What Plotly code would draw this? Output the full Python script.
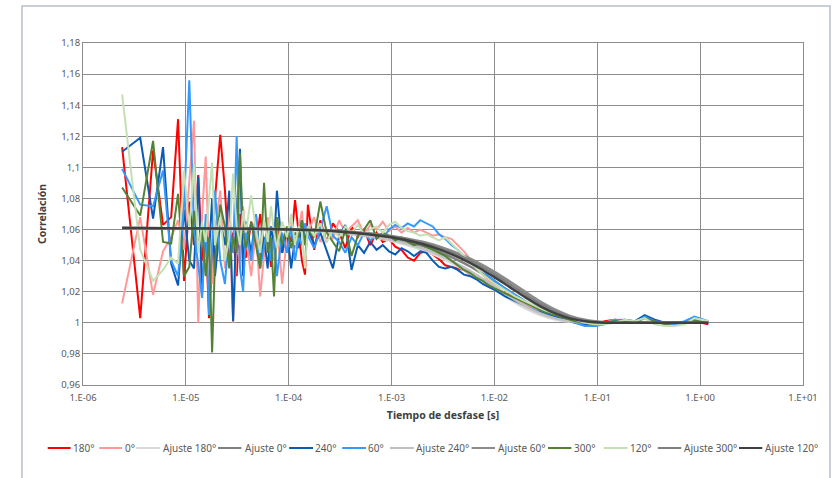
import plotly.graph_objects as go

# lag times (microseconds) of the measured correlation curves
lag_us = [2.4, 3.6, 4.8, 6.0, 7.2, 8.4, 9.6, 10.8, 12.0, 13.2, 14.4, 15.6, 16.8, 18.0, 19.2,
          21.6, 24.0, 26.4, 28.8, 31.2, 33.6, 36.0, 38.4,
          43.2, 48.0, 52.8, 57.6, 62.4, 67.2, 72.0, 76.8,
          86.4, 96, 105.6, 115.2, 124.8, 134.4, 144, 153.6,
          177, 203, 234, 269, 309, 355, 408, 470, 540, 621, 714, 821, 944, 1086, 1249, 1436,
          1652, 1900, 2185, 2512, 2889, 3322, 3821, 4394, 5053, 5811, 6682, 7685, 8837, 10163,
          12700, 15900, 19800, 24800, 31000, 38800, 48500, 60600, 75800, 94700, 118000, 148000,
          185000, 231000, 289000, 361000, 452000, 565000, 706000, 882000, 1200000]

g_180 = [1.113, 1.003, 1.111, 1.063, 1.068, 1.131, 1.027, 1.078, 1.050, 1.095, 1.040, 1.060, 1.003, 1.045, 1.080,
         1.121, 1.085, 1.040, 1.058, 1.030, 1.070, 1.045, 1.042,
         1.065, 1.050, 1.070, 1.048, 1.062, 1.036, 1.058, 1.066,
         1.045, 1.060, 1.052, 1.079, 1.058, 1.040, 1.031, 1.076,
         1.047, 1.066, 1.052, 1.064, 1.058, 1.048, 1.062, 1.055, 1.060, 1.050, 1.058, 1.052, 1.054, 1.049, 1.047, 1.042,
         1.040, 1.045, 1.046, 1.044, 1.041, 1.037, 1.036, 1.035, 1.034, 1.031, 1.029, 1.027, 1.025, 1.023,
         1.019, 1.017, 1.013, 1.010, 1.007, 1.005, 1.004, 1.002, 1.000, 0.999, 1.001, 1.002,
         1.001, 1.000, 1.004, 1.001, 1.000, 0.999, 1.000, 1.001, 0.999]

g_0 = [1.0125, 1.068, 1.018, 1.046, 1.055, 1.066, 1.047, 1.090, 1.130, 1.000, 1.070, 1.107, 1.040, 1.025, 1.060,
       1.085, 1.035, 1.070, 1.000, 1.050, 1.040, 1.075, 1.055,
       1.030, 1.060, 1.017, 1.045, 1.068, 1.052, 1.040, 1.062,
       1.025, 1.055, 1.068, 1.048, 1.060, 1.072, 1.050, 1.058,
       1.068, 1.052, 1.060, 1.054, 1.066, 1.058, 1.062, 1.066, 1.057, 1.063, 1.060, 1.065, 1.059, 1.062, 1.058, 1.061,
       1.058, 1.060, 1.058, 1.056, 1.057, 1.055, 1.054, 1.050, 1.046, 1.041, 1.036, 1.031, 1.027, 1.024,
       1.018, 1.015, 1.012, 1.009, 1.006, 1.005, 1.003, 1.001, 1.000, 0.999, 1.000, 1.002,
       1.002, 1.001, 1.004, 1.002, 1.000, 0.999, 1.000, 1.002, 1.000]

g_240 = [1.110, 1.119, 1.067, 1.113, 1.038, 1.024, 1.073, 1.040, 1.035, 1.094, 1.020, 1.060, 1.045, 1.080, 1.030,
         1.065, 1.050, 1.085, 1.001, 1.070, 1.112, 1.030, 1.065,
         1.045, 1.070, 1.040, 1.055, 1.035, 1.062, 1.050, 1.085,
         1.045, 1.060, 1.035, 1.055, 1.048, 1.066, 1.052, 1.060,
         1.050, 1.058, 1.046, 1.035, 1.056, 1.063, 1.034, 1.050, 1.045, 1.052, 1.047, 1.050, 1.046, 1.044, 1.048, 1.046,
         1.043, 1.046, 1.045, 1.040, 1.036, 1.035, 1.036, 1.034, 1.031, 1.030, 1.028, 1.025, 1.023, 1.021,
         1.017, 1.014, 1.011, 1.008, 1.006, 1.004, 1.002, 1.000, 0.999, 0.998, 1.000, 1.001,
         1.002, 1.001, 1.005, 1.002, 1.000, 1.000, 1.000, 1.001, 1.000]

g_60 = [1.099, 1.076, 1.075, 1.098, 1.040, 1.030, 1.075, 1.156, 1.060, 1.035, 1.016, 1.070, 1.005, 1.050, 1.085,
        1.040, 1.025, 1.060, 1.045, 1.120, 1.035, 1.020, 1.060,
        1.040, 1.070, 1.035, 1.050, 1.062, 1.040, 1.055, 1.030,
        1.058, 1.045, 1.062, 1.040, 1.055, 1.050, 1.064, 1.056,
        1.048, 1.060, 1.075, 1.056, 1.052, 1.045, 1.055, 1.050, 1.058, 1.053, 1.056, 1.054, 1.060, 1.063, 1.061, 1.064,
        1.062, 1.066, 1.064, 1.062, 1.057, 1.054, 1.050, 1.047, 1.043, 1.040, 1.037, 1.034, 1.030, 1.027,
        1.022, 1.018, 1.014, 1.010, 1.007, 1.005, 1.003, 1.000, 0.998, 0.998, 0.999, 1.002,
        1.001, 1.000, 1.004, 1.001, 1.000, 0.999, 1.001, 1.004, 1.001]

g_300 = [1.087, 1.069, 1.117, 1.052, 1.051, 1.083, 1.030, 1.036, 1.072, 1.050, 1.060, 1.030, 1.055, 0.981, 1.040,
         1.076, 1.062, 1.035, 1.055, 1.045, 1.109, 1.058, 1.048,
         1.065, 1.050, 1.035, 1.090, 1.045, 1.055, 1.017, 1.068,
         1.050, 1.062, 1.048, 1.058, 1.055, 1.066, 1.050, 1.060,
         1.055, 1.078, 1.058, 1.052, 1.046, 1.060, 1.043, 1.056, 1.060, 1.066, 1.054, 1.058, 1.056, 1.053, 1.055, 1.052,
         1.050, 1.051, 1.049, 1.047, 1.045, 1.043, 1.040, 1.037, 1.034, 1.032, 1.029, 1.027, 1.024, 1.022,
         1.019, 1.016, 1.013, 1.010, 1.007, 1.005, 1.003, 1.001, 1.000, 0.999, 1.000, 1.001,
         1.001, 1.000, 1.003, 1.001, 0.999, 1.000, 1.000, 1.002, 1.000]

g_120 = [1.147, 1.047, 1.027, 1.034, 1.042, 1.038, 1.098, 1.060, 1.102, 1.045, 1.065, 1.052, 1.080, 1.103, 1.050,
         1.068, 1.040, 1.055, 1.096, 1.062, 1.050, 1.072, 1.058,
         1.082, 1.060, 1.045, 1.066, 1.052, 1.075, 1.058, 1.048,
         1.065, 1.055, 1.070, 1.050, 1.062, 1.058, 1.035, 1.062,
         1.056, 1.064, 1.052, 1.060, 1.055, 1.062, 1.058, 1.063, 1.057, 1.060, 1.062, 1.058, 1.063, 1.065, 1.061, 1.059,
         1.058, 1.056, 1.057, 1.055, 1.053, 1.055, 1.051, 1.047, 1.043, 1.039, 1.035, 1.031, 1.028, 1.025,
         1.021, 1.017, 1.014, 1.011, 1.008, 1.006, 1.004, 1.002, 1.000, 0.999, 0.999, 1.000,
         1.002, 1.001, 1.003, 0.999, 0.998, 0.998, 0.999, 1.003, 1.001]

# fitted curves (Ajuste), sampled lag times in seconds
fit_t = [2.4e-6, 1e-4, 3e-4, 1e-3, 2e-3, 3e-3, 5e-3, 7e-3, 1e-2, 1.4e-2, 2e-2, 2.8e-2,
         4e-2, 5.5e-2, 8e-2, 0.12, 0.2, 0.4, 1.2]
fit_180 = [1.0609, 1.0597, 1.0579, 1.0526, 1.0468, 1.0419, 1.0342, 1.0282, 1.0215, 1.0152, 1.0093, 1.0050,
           1.0020, 1.0007, 1.0001, 1.0000, 1.0, 1.0, 1.0]
fit_0 = [1.0610, 1.0600, 1.0585, 1.0543, 1.0494, 1.0453, 1.0385, 1.0331, 1.0267, 1.0203, 1.0137, 1.0084,
         1.0041, 1.0018, 1.0005, 1.0001, 1.0, 1.0, 1.0]
fit_240 = [1.0609, 1.0598, 1.0581, 1.0533, 1.0478, 1.0432, 1.0358, 1.0300, 1.0234, 1.0170, 1.0108, 1.0061,
           1.0027, 1.0010, 1.0002, 1.0000, 1.0, 1.0, 1.0]
fit_60 = [1.0610, 1.0603, 1.0591, 1.0559, 1.0521, 1.0488, 1.0432, 1.0385, 1.0328, 1.0267, 1.0199, 1.0137,
          1.0081, 1.0043, 1.0016, 1.0004, 1.0, 1.0, 1.0]
fit_300 = [1.0610, 1.0602, 1.0590, 1.0555, 1.0514, 1.0479, 1.0421, 1.0372, 1.0312, 1.0250, 1.0182, 1.0122,
           1.0069, 1.0035, 1.0012, 1.0002, 1.0, 1.0, 1.0]
fit_120 = [1.0610, 1.0601, 1.0588, 1.0550, 1.0507, 1.0469, 1.0407, 1.0356, 1.0294, 1.0231, 1.0164, 1.0106,
           1.0057, 1.0027, 1.0009, 1.0001, 1.0, 1.0, 1.0]

x_tickvals = [1e-6, 1e-5, 1e-4, 1e-3, 1e-2, 1e-1, 1e0, 1e1]
x_ticktext = ["1.E-06", "1.E-05", "1.E-04", "1.E-03", "1.E-02", "1.E-01", "1.E+00", "1.E+01"]
y_tickvals = [0.96, 0.98, 1.0, 1.02, 1.04, 1.06, 1.08, 1.1, 1.12, 1.14, 1.16, 1.18]
y_ticktext = ["0,96", "0,98", "1", "1,02", "1,04", "1,06", "1,08", "1,1", "1,12", "1,14", "1,16", "1,18"]

lag_s = [v * 1e-6 for v in lag_us]

series = [
    ("180°", lag_s, g_180, "#ff0000", 2.0, False),
    ("0°", lag_s, g_0, "#ff9999", 2.0, False),
    ("Ajuste 180°", fit_t, fit_180, "#d9d9d9", 2.5, True),
    ("Ajuste 0°", fit_t, fit_0, "#808080", 2.5, True),
    ("240°", lag_s, g_240, "#0a5bb5", 2.0, False),
    ("60°", lag_s, g_60, "#3399ff", 2.0, False),
    ("Ajuste 240°", fit_t, fit_240, "#c0c0c0", 2.5, True),
    ("Ajuste 60°", fit_t, fit_60, "#8c8c8c", 2.5, True),
    ("300°", lag_s, g_300, "#548235", 2.0, False),
    ("120°", lag_s, g_120, "#c5e0b4", 2.0, False),
    ("Ajuste 300°", fit_t, fit_300, "#7f7f7f", 2.5, True),
    ("Ajuste 120°", fit_t, fit_120, "#404040", 2.5, True),
]

# legend layout (pixel positions of each entry: line start, line end, text start)
W, H = 832, 478
ML, MR, MT, MB = 83, 29, 43, 93
PW, PH = W - ML - MR, H - MT - MB
legend_px = [(47.7, 70.6, 72.1), (99.2, 122.0, 123.6), (136.3, 160.2, 162.3), (218.0, 241.4, 243.5),
             (289.1, 313.0, 314.1), (342.2, 366.0, 367.1), (389.9, 413.8, 415.4), (471.6, 495.0, 496.6),
             (548.0, 571.4, 573.0), (603.7, 627.6, 629.2), (657.8, 681.2, 682.8), (739.0, 762.3, 763.9)]
legend_y_px = 448


def px_x(p):
    return (p - ML) / PW


def px_y(p):
    return (H - MB - p) / PH


fig = go.Figure()
for name, xs, ys, col, w, smooth in series:
    fig.add_trace(go.Scatter(
        x=xs, y=ys, name=name, mode="lines",
        line=dict(color=col, width=w, shape="spline" if smooth else "linear", smoothing=1.0),
    ))

shapes = [dict(type="rect", xref="paper", yref="paper",
               x0=px_x(22), x1=px_x(830), y0=px_y(490), y1=px_y(6),
               line=dict(color="#b9bfcc", width=1.5), fillcolor="rgba(0,0,0,0)", layer="below")]
annotations = []
ly = px_y(legend_y_px)
for (name, xs, ys, col, w, smooth), (l0, l1, tx) in zip(series, legend_px):
    shapes.append(dict(type="line", xref="paper", yref="paper", x0=px_x(l0), x1=px_x(l1), y0=ly, y1=ly,
                       line=dict(color=col, width=2)))
    annotations.append(dict(xref="paper", yref="paper", x=px_x(tx), y=ly, text=name, showarrow=False,
                            xanchor="left", yanchor="middle", borderpad=0,
                            font=dict(size=10, color="#595959")))

FONT = "Noto Sans"
fig.update_layout(
    width=W, height=H,
    margin=dict(l=ML, r=MR, t=MT, b=MB),
    paper_bgcolor="white", plot_bgcolor="white",
    font=dict(family=FONT, size=9.5, color="#595959"),
    showlegend=False,
    xaxis=dict(type="log", range=[-6, 1], tickvals=x_tickvals, ticktext=x_ticktext,
               showgrid=True, gridcolor="#8c8c8c", gridwidth=1,
               showline=True, linecolor="#8c8c8c", linewidth=1, mirror=True,
               ticks="", zeroline=False, automargin=False, ticklabelstandoff=4,
               title=dict(text="<b>Tiempo de desfase [s]</b>", font=dict(size=10.5, color="#404040"), standoff=8)),
    yaxis=dict(range=[0.96, 1.18], tickvals=y_tickvals, ticktext=y_ticktext,
               showgrid=True, gridcolor="#8c8c8c", gridwidth=1,
               showline=True, linecolor="#8c8c8c", linewidth=1, mirror=True,
               ticks="", zeroline=False, automargin=False,
               title=dict(text="<b>Correlación</b>", font=dict(size=10.5, color="#404040"), standoff=12)),
    shapes=shapes,
    annotations=annotations,
)

fig.write_html("out.html", config={"displayModeBar": False},
               post_script="document.body.style.margin='0px';document.body.style.padding='0px';")
